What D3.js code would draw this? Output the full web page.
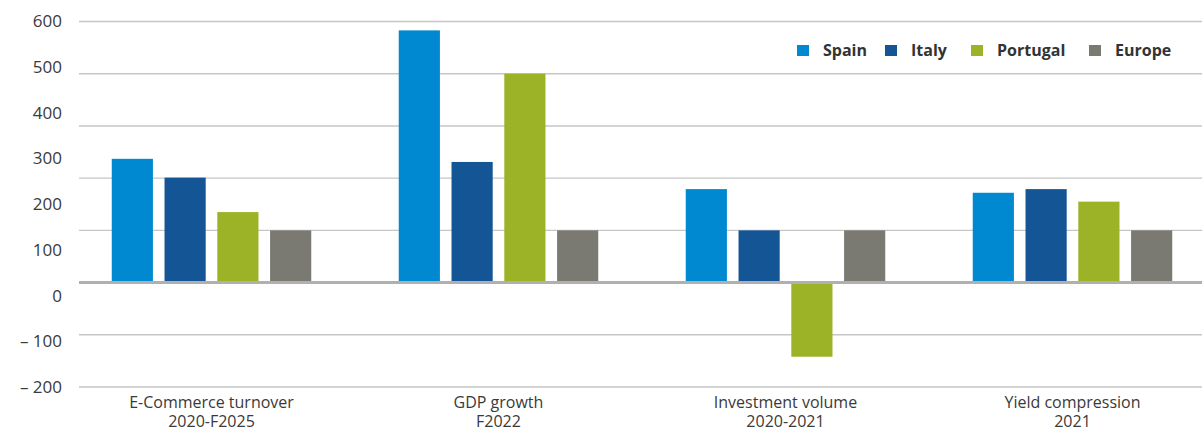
<!DOCTYPE html>
<html>
<head>
<meta charset="utf-8">
<script src="https://cdn.jsdelivr.net/npm/d3@7"></script>
<style>
  body { margin: 0; background: #fff; }
  svg { display: block; font-family: "Open Sans", sans-serif; }
</style>
</head>
<body>
<div id="chart"></div>
<script>
// chart data
var categories = ["E-Commerce turnover|2020-F2025", "GDP growth|F2022", "Investment volume|2020-2021", "Yield compression|2021"];
var countries = ["Spain", "Italy", "Portugal", "Europe"];
var spain = [237, 483, 179, 172];
var italy = [201, 231, 100, 179];
var portugal = [135, 400, -142, 155];
var europe = [100, 100, 100, 100];
var tickLabels = [600, 500, 400, 300, 200, 100, 0, -100, -200];
var gridValues = [500, 400, 300, 200, 100, 0, -100, -200];
var colors = ["#0089d0", "#145596", "#9cb227", "#7a7a73"];

var width = 1202, height = 432;

var svg = d3.select("#chart").append("svg")
  .attr("width", width)
  .attr("height", height);

var series = [spain, italy, portugal, europe];
var rows = categories.map(function(c, i) {
  return { cat: c, values: countries.map(function(k, j) { return { key: k, value: series[j][i] }; }) };
});

// scale for the bars and gridlines
var y = d3.scaleLinear().domain([-200, 500]).range([387, 21.5]);
// the tick labels in the original sit on their own spacing
var yLabel = d3.scaleLinear().domain([-200, 600]).range([387, 21]);

var x0 = d3.scaleBand().domain(categories).range([68, 1216]);
var x1 = d3.scaleBand().domain(countries).range([0, 199.5]).paddingInner(0.22);
var color = d3.scaleOrdinal().domain(countries).range(colors);

// gridlines
svg.append("g").selectAll("line")
  .data(gridValues.filter(function(d) { return d !== 0; }))
  .enter().append("line")
  .attr("x1", 79).attr("x2", width)
  .attr("y1", function(d) { return y(d); })
  .attr("y2", function(d) { return y(d); })
  .attr("stroke", "#c6c6c6")
  .attr("stroke-width", 1.4);

// tick labels
svg.append("g").selectAll("text")
  .data(tickLabels)
  .enter().append("text")
  .attr("x", 62)
  .attr("y", function(d) { return yLabel(d); })
  .attr("dy", "0.36em")
  .attr("text-anchor", "end")
  .attr("font-size", 17)
  .attr("fill", "#3a3a3a")
  .text(function(d) { return d < 0 ? "\u2013 " + Math.abs(d) : d; });

// bars
var groups = svg.append("g").selectAll("g")
  .data(rows)
  .enter().append("g")
  .attr("transform", function(d) {
    return "translate(" + (x0(d.cat) + (x0.bandwidth() - 199.5) / 2) + ",0)";
  });

groups.selectAll("rect")
  .data(function(d) { return d.values; })
  .enter().append("rect")
  .attr("x", function(d) { return x1(d.key); })
  .attr("width", x1.bandwidth())
  .attr("y", function(d) { return y(Math.max(0, d.value)); })
  .attr("height", function(d) { return Math.abs(y(d.value) - y(0)); })
  .attr("fill", function(d) { return color(d.key); });

// zero line
svg.append("line")
  .attr("x1", 79).attr("x2", width)
  .attr("y1", y(0)).attr("y2", y(0))
  .attr("stroke", "#b0b0b0")
  .attr("stroke-width", 3);

// category labels, two lines each
var catText = svg.append("g").selectAll("text")
  .data(categories)
  .enter().append("text")
  .attr("text-anchor", "middle")
  .attr("font-size", 16)
  .attr("fill", "#3a3a3a");

catText.each(function(d) {
  var parts = d.split("|");
  var cx = x0(d) + x0.bandwidth() / 2;
  d3.select(this).selectAll("tspan")
    .data(parts)
    .enter().append("tspan")
    .attr("x", cx)
    .attr("y", function(p, i) { return 408 + i * 19; })
    .text(function(p) { return p; });
});

// legend
var legendX = [797, 885, 971, 1089];
var legend = svg.append("g").selectAll("g")
  .data(countries)
  .enter().append("g")
  .attr("transform", function(d, i) { return "translate(" + legendX[i] + ",45)"; });

legend.append("rect")
  .attr("width", 12).attr("height", 11)
  .attr("fill", function(d) { return color(d); });

legend.append("text")
  .attr("x", 26)
  .attr("y", 11)
  .attr("font-size", 16)
  .attr("font-weight", "bold")
  .attr("fill", "#333")
  .text(function(d) { return d; });
</script>
</body>
</html>
